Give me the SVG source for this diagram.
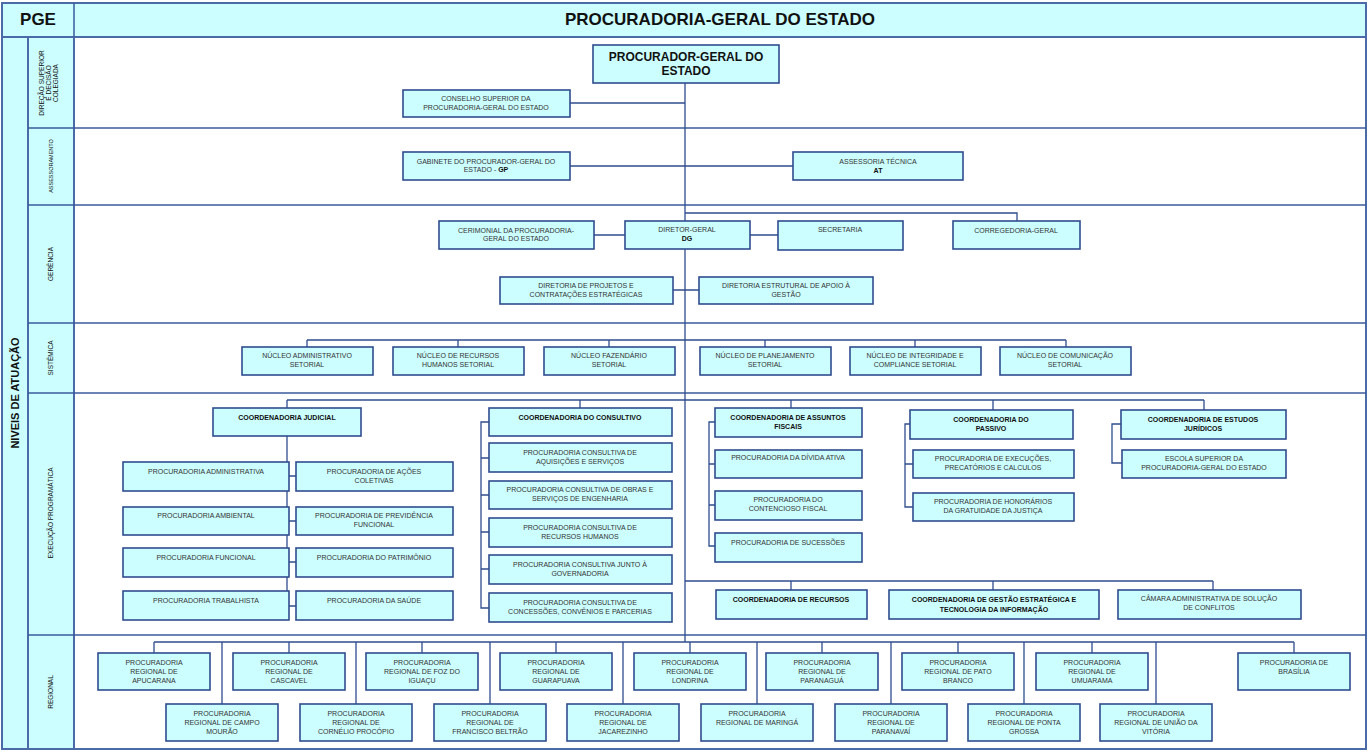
<svg xmlns="http://www.w3.org/2000/svg" width="1369" height="753" viewBox="0 0 1369 753">
<style>
.b{fill:#ccfeff;stroke:#2f4d8f;stroke-width:1.6}
.f{fill:#ccfeff;stroke:#4a6aa8;stroke-width:2}
.l{fill:none;stroke:#2f4d8f;stroke-width:1.3}
.g{stroke:#3a5a9c;stroke-width:1.5}
text{font-family:"Liberation Sans",Arial,sans-serif;text-anchor:middle;fill:#333}
.t{font-size:7px}
.tb{font-size:7px;font-weight:bold;fill:#111}
.v{font-size:6.5px;fill:#111}
.h{font-size:17px;font-weight:bold;fill:#111}
</style>
<rect x="0" y="0" width="1369" height="753" fill="#fff"/>
<g id="frame">
<rect class="f" x="2" y="3" width="1364" height="34"/>
<rect class="f" x="2" y="37" width="26" height="712"/>
<rect class="f" x="28" y="37" width="46" height="712"/>
<rect x="74" y="37" width="1292" height="712" fill="#fff" stroke="#4a6aa8" stroke-width="2"/>
<line class="g" x1="74" y1="3" x2="74" y2="37"/>
<line class="g" x1="28" y1="128" x2="1366" y2="128"/>
<line class="g" x1="28" y1="205" x2="1366" y2="205"/>
<line class="g" x1="28" y1="323" x2="1366" y2="323"/>
<line class="g" x1="28" y1="393" x2="1366" y2="393"/>
<line class="g" x1="28" y1="635" x2="1366" y2="635"/>
<text class="h" x="38" y="25">PGE</text>
<text class="h" x="720" y="25">PROCURADORIA-GERAL DO ESTADO</text>
<text style="font-size:11px;font-weight:bold;fill:#111" transform="translate(19,393) rotate(-90)">NIVEIS DE ATUAÇÃO</text>
<text class="v" transform="translate(44,83) rotate(-90)">DIREÇÃO SUPERIOR</text>
<text class="v" transform="translate(51,83) rotate(-90)">E DECISÃO</text>
<text class="v" transform="translate(58,83) rotate(-90)">COLEGIADA</text>
<text class="v" style="font-size:5.5px" transform="translate(53,166) rotate(-90)">ASSESSORAMENTO</text>
<text class="v" transform="translate(53,264) rotate(-90)">GERÊNCIA</text>
<text class="v" transform="translate(53,358) rotate(-90)">SISTÊMICA</text>
<text class="v" transform="translate(53,513) rotate(-90)">EXECUÇÃO PROGRAMÁTICA</text>
<text class="v" transform="translate(53,692) rotate(-90)">REGIONAL</text>
</g>
<g id="connectors">
<path class="l" d="M685 83V642M570 103H685M570 166H793M685 213H1017V221M594 235H625M750 235H778M673 290H699"/>
<path class="l" d="M307 340H1066M307 340V347M458 340V347M609 340V347M765 340V347M915 340V347M1066 340V347"/>
<path class="l" d="M287 400H1204M287 400V408M580 400V408M791 400V408M993 400V410M1204 400V410"/>
<path class="l" d="M287 436V609M289 476H296M289 521H296M289 562H296M289 606H296"/>
<path class="l" d="M489 422H481V608H489M481 458H489M481 495H489M481 532H489M481 569H489"/>
<path class="l" d="M715 422H709V546H715M709 464H715M709 505H715"/>
<path class="l" d="M910 424H905V507H913M905 464H913"/>
<path class="l" d="M1121 424H1112V463H1122"/>
<path class="l" d="M685 581H1213M791 581V590M993 581V590M1213 581V590"/>
<path class="l" d="M154 642H1294M154 642V653M289 642V653M422 642V653M556 642V653M690 642V653M822 642V653M958 642V653M1092 642V653M1294 642V653M222 642V704M356 642V704M490 642V704M623 642V704M757 642V704M891 642V704M1024 642V704M1156 642V704"/>
</g>
<g id="pge"><rect class="b" x="593" y="45" width="186" height="38"/><text style="font-size:12px;font-weight:bold;fill:#111" x="686" y="61">PROCURADOR-GERAL DO</text><text style="font-size:12px;font-weight:bold;fill:#111" x="686" y="75">ESTADO</text></g>
<g id="conselho"><rect class="b" x="403" y="90" width="167" height="27"/><text class="t" x="486" y="101">CONSELHO SUPERIOR DA</text><text class="t" x="486" y="110">PROCURADORIA-GERAL DO ESTADO</text></g>
<g id="gabinete"><rect class="b" x="403" y="152" width="167" height="28"/><text class="t" x="486" y="164">GABINETE DO PROCURADOR-GERAL DO</text><text class="t" x="486" y="172">ESTADO - <tspan font-weight="bold" fill="#111">GP</tspan></text></g>
<g id="at"><rect class="b" x="793" y="152" width="170" height="28"/><text class="t" x="878" y="164">ASSESSORIA TÉCNICA</text><text class="tb" x="878" y="173">AT</text></g>
<g id="cerimonial"><rect class="b" x="439" y="221" width="155" height="28"/><text class="t" x="516" y="233">CERIMONIAL DA PROCURADORIA-</text><text class="t" x="516" y="241">GERAL DO ESTADO</text></g>
<g id="dg"><rect class="b" x="625" y="221" width="125" height="28"/><text class="t" x="687" y="232">DIRETOR-GERAL</text><text class="tb" x="687" y="241">DG</text></g>
<g id="secretaria"><rect class="b" x="778" y="221" width="125" height="29"/><text class="t" x="840" y="232">SECRETARIA</text></g>
<g id="corregedoria"><rect class="b" x="953" y="221" width="127" height="28"/><text class="t" x="1016" y="233">CORREGEDORIA-GERAL</text></g>
<g id="dir-projetos"><rect class="b" x="500" y="277" width="173" height="27"/><text class="t" x="586" y="288">DIRETORIA DE PROJETOS E</text><text class="t" x="586" y="297">CONTRATAÇÕES ESTRATÉGICAS</text></g>
<g id="dir-estrutural"><rect class="b" x="699" y="277" width="174" height="27"/><text class="t" x="786" y="288">DIRETORIA ESTRUTURAL DE APOIO À</text><text class="t" x="786" y="297">GESTÃO</text></g>
<g id="nucleo-adm"><rect class="b" x="242" y="347" width="131" height="28"/><text class="t" x="307" y="358">NÚCLEO ADMINISTRATIVO</text><text class="t" x="307" y="367">SETORIAL</text></g>
<g id="nucleo-rh"><rect class="b" x="393" y="347" width="131" height="28"/><text class="t" x="458" y="358">NÚCLEO DE RECURSOS</text><text class="t" x="458" y="367">HUMANOS SETORIAL</text></g>
<g id="nucleo-faz"><rect class="b" x="544" y="347" width="131" height="28"/><text class="t" x="609" y="358">NÚCLEO FAZENDÁRIO</text><text class="t" x="609" y="367">SETORIAL</text></g>
<g id="nucleo-plan"><rect class="b" x="700" y="347" width="131" height="28"/><text class="t" x="765" y="358">NÚCLEO DE PLANEJAMENTO</text><text class="t" x="765" y="367">SETORIAL</text></g>
<g id="nucleo-int"><rect class="b" x="850" y="347" width="131" height="28"/><text class="t" x="915" y="358">NÚCLEO DE INTEGRIDADE E</text><text class="t" x="915" y="367">COMPLIANCE SETORIAL</text></g>
<g id="nucleo-com"><rect class="b" x="1000" y="347" width="131" height="28"/><text class="t" x="1065" y="358">NÚCLEO DE COMUNICAÇÃO</text><text class="t" x="1065" y="367">SETORIAL</text></g>
<g id="coord-judicial"><rect class="b" x="213" y="408" width="148" height="28"/><text class="tb" x="287" y="420">COORDENADORIA JUDICIAL</text></g>
<g id="pj-adm"><rect class="b" x="123" y="462" width="166" height="29"/><text class="t" x="206" y="474">PROCURADORIA ADMINISTRATIVA</text></g>
<g id="pj-acoes"><rect class="b" x="296" y="462" width="157" height="29"/><text class="t" x="374" y="474">PROCURADORIA DE AÇÕES</text><text class="t" x="374" y="483">COLETIVAS</text></g>
<g id="pj-amb"><rect class="b" x="123" y="507" width="166" height="28"/><text class="t" x="206" y="518">PROCURADORIA AMBIENTAL</text></g>
<g id="pj-prev"><rect class="b" x="296" y="507" width="157" height="28"/><text class="t" x="374" y="518">PROCURADORIA DE PREVIDÊNCIA</text><text class="t" x="374" y="527">FUNCIONAL</text></g>
<g id="pj-func"><rect class="b" x="123" y="548" width="166" height="29"/><text class="t" x="206" y="560">PROCURADORIA FUNCIONAL</text></g>
<g id="pj-patr"><rect class="b" x="296" y="548" width="157" height="29"/><text class="t" x="374" y="560">PROCURADORIA DO PATRIMÔNIO</text></g>
<g id="pj-trab"><rect class="b" x="123" y="591" width="166" height="29"/><text class="t" x="206" y="603">PROCURADORIA TRABALHISTA</text></g>
<g id="pj-saude"><rect class="b" x="296" y="591" width="157" height="29"/><text class="t" x="374" y="603">PROCURADORIA DA SAÚDE</text></g>
<g id="coord-consultivo"><rect class="b" x="489" y="408" width="183" height="28"/><text class="tb" x="580" y="420">COORDENADORIA DO CONSULTIVO</text></g>
<g id="pc-aq"><rect class="b" x="489" y="443" width="183" height="29"/><text class="t" x="580" y="455">PROCURADORIA CONSULTIVA DE</text><text class="t" x="580" y="464">AQUISIÇÕES E SERVIÇOS</text></g>
<g id="pc-obras"><rect class="b" x="489" y="481" width="183" height="28"/><text class="t" x="580" y="492">PROCURADORIA CONSULTIVA DE OBRAS E</text><text class="t" x="580" y="501">SERVIÇOS DE ENGENHARIA</text></g>
<g id="pc-rh"><rect class="b" x="489" y="518" width="183" height="29"/><text class="t" x="580" y="530">PROCURADORIA CONSULTIVA DE</text><text class="t" x="580" y="539">RECURSOS HUMANOS</text></g>
<g id="pc-gov"><rect class="b" x="489" y="555" width="183" height="29"/><text class="t" x="580" y="567">PROCURADORIA CONSULTIVA JUNTO À</text><text class="t" x="580" y="576">GOVERNADORIA</text></g>
<g id="pc-conc"><rect class="b" x="489" y="593" width="183" height="29"/><text class="t" x="580" y="605">PROCURADORIA CONSULTIVA DE</text><text class="t" x="580" y="614">CONCESSÕES, CONVÊNIOS E PARCERIAS</text></g>
<g id="coord-fiscais"><rect class="b" x="715" y="408" width="147" height="29"/><text class="tb" x="788" y="420">COORDENADORIA DE ASSUNTOS</text><text class="tb" x="788" y="429">FISCAIS</text></g>
<g id="pf-divida"><rect class="b" x="715" y="450" width="147" height="28"/><text class="t" x="788" y="460">PROCURADORIA DA DÍVIDA ATIVA</text></g>
<g id="pf-cont"><rect class="b" x="715" y="491" width="147" height="29"/><text class="t" x="788" y="502">PROCURADORIA DO</text><text class="t" x="788" y="511">CONTENCIOSO FISCAL</text></g>
<g id="pf-suc"><rect class="b" x="715" y="533" width="147" height="29"/><text class="t" x="788" y="545">PROCURADORIA DE SUCESSÕES</text></g>
<g id="coord-passivo"><rect class="b" x="910" y="410" width="163" height="29"/><text class="tb" x="991" y="422">COORDENADORIA DO</text><text class="tb" x="991" y="431">PASSIVO</text></g>
<g id="pp-exec"><rect class="b" x="913" y="450" width="161" height="28"/><text class="t" x="993" y="461">PROCURADORIA DE EXECUÇÕES,</text><text class="t" x="993" y="470">PRECATÓRIOS E CALCULOS</text></g>
<g id="pp-hon"><rect class="b" x="913" y="493" width="161" height="28"/><text class="t" x="993" y="504">PROCURADORIA DE HONORÁRIOS</text><text class="t" x="993" y="513">DA GRATUIDADE DA JUSTIÇA</text></g>
<g id="coord-estudos"><rect class="b" x="1121" y="410" width="165" height="29"/><text class="tb" x="1203" y="422">COORDENADORIA DE ESTUDOS</text><text class="tb" x="1203" y="431">JURÍDICOS</text></g>
<g id="escola"><rect class="b" x="1122" y="450" width="164" height="28"/><text class="t" x="1204" y="461">ESCOLA SUPERIOR DA</text><text class="t" x="1204" y="470">PROCURADORIA-GERAL DO ESTADO</text></g>
<g id="coord-recursos"><rect class="b" x="716" y="590" width="151" height="29"/><text class="tb" x="791" y="602">COORDENADORIA DE RECURSOS</text></g>
<g id="coord-gestao"><rect class="b" x="889" y="590" width="210" height="29"/><text class="tb" x="994" y="602">COORDENADORIA DE GESTÃO ESTRATÉGICA E</text><text class="tb" x="994" y="612">TECNOLOGIA DA INFORMAÇÃO</text></g>
<g id="camara"><rect class="b" x="1118" y="590" width="183" height="29"/><text class="t" x="1209" y="601">CÂMARA ADMINISTRATIVA DE SOLUÇÃO</text><text class="t" x="1209" y="610">DE CONFLITOS</text></g>
<g id="pr-apucarana"><rect class="b" x="98" y="653" width="112" height="37"/><text class="t" x="154" y="665">PROCURADORIA</text><text class="t" x="154" y="674">REGIONAL DE</text><text class="t" x="154" y="683">APUCARANA</text></g>
<g id="pr-cascavel"><rect class="b" x="233" y="653" width="112" height="37"/><text class="t" x="289" y="665">PROCURADORIA</text><text class="t" x="289" y="674">REGIONAL DE</text><text class="t" x="289" y="683">CASCAVEL</text></g>
<g id="pr-foz"><rect class="b" x="366" y="653" width="112" height="37"/><text class="t" x="422" y="665">PROCURADORIA</text><text class="t" x="422" y="674">REGIONAL DE FOZ DO</text><text class="t" x="422" y="683">IGUAÇU</text></g>
<g id="pr-guarapuava"><rect class="b" x="500" y="653" width="112" height="37"/><text class="t" x="556" y="665">PROCURADORIA</text><text class="t" x="556" y="674">REGIONAL DE</text><text class="t" x="556" y="683">GUARAPUAVA</text></g>
<g id="pr-londrina"><rect class="b" x="634" y="653" width="112" height="37"/><text class="t" x="690" y="665">PROCURADORIA</text><text class="t" x="690" y="674">REGIONAL DE</text><text class="t" x="690" y="683">LONDRINA</text></g>
<g id="pr-paranagua"><rect class="b" x="766" y="653" width="112" height="37"/><text class="t" x="822" y="665">PROCURADORIA</text><text class="t" x="822" y="674">REGIONAL DE</text><text class="t" x="822" y="683">PARANAGUÁ</text></g>
<g id="pr-pato"><rect class="b" x="902" y="653" width="112" height="37"/><text class="t" x="958" y="665">PROCURADORIA</text><text class="t" x="958" y="674">REGIONAL DE PATO</text><text class="t" x="958" y="683">BRANCO</text></g>
<g id="pr-umuarama"><rect class="b" x="1036" y="653" width="112" height="37"/><text class="t" x="1092" y="665">PROCURADORIA</text><text class="t" x="1092" y="674">REGIONAL DE</text><text class="t" x="1092" y="683">UMUARAMA</text></g>
<g id="pr-brasilia"><rect class="b" x="1238" y="653" width="112" height="37"/><text class="t" x="1294" y="665">PROCURADORIA DE</text><text class="t" x="1294" y="674">BRASÍLIA</text></g>
<g id="pr-campo"><rect class="b" x="166" y="704" width="112" height="37"/><text class="t" x="222" y="716">PROCURADORIA</text><text class="t" x="222" y="725">REGIONAL DE CAMPO</text><text class="t" x="222" y="734">MOURÃO</text></g>
<g id="pr-cornelio"><rect class="b" x="300" y="704" width="112" height="37"/><text class="t" x="356" y="716">PROCURADORIA</text><text class="t" x="356" y="725">REGIONAL DE</text><text class="t" x="356" y="734">CORNÉLIO PROCÓPIO</text></g>
<g id="pr-francisco"><rect class="b" x="434" y="704" width="112" height="37"/><text class="t" x="490" y="716">PROCURADORIA</text><text class="t" x="490" y="725">REGIONAL DE</text><text class="t" x="490" y="734">FRANCISCO BELTRÃO</text></g>
<g id="pr-jacarezinho"><rect class="b" x="567" y="704" width="112" height="37"/><text class="t" x="623" y="716">PROCURADORIA</text><text class="t" x="623" y="725">REGIONAL DE</text><text class="t" x="623" y="734">JACAREZINHO</text></g>
<g id="pr-maringa"><rect class="b" x="701" y="704" width="112" height="37"/><text class="t" x="757" y="716">PROCURADORIA</text><text class="t" x="757" y="725">REGIONAL DE MARINGÁ</text></g>
<g id="pr-paranavai"><rect class="b" x="835" y="704" width="112" height="37"/><text class="t" x="891" y="716">PROCURADORIA</text><text class="t" x="891" y="725">REGIONAL DE</text><text class="t" x="891" y="734">PARANAVAÍ</text></g>
<g id="pr-ponta"><rect class="b" x="968" y="704" width="112" height="37"/><text class="t" x="1024" y="716">PROCURADORIA</text><text class="t" x="1024" y="725">REGIONAL DE PONTA</text><text class="t" x="1024" y="734">GROSSA</text></g>
<g id="pr-uniao"><rect class="b" x="1100" y="704" width="112" height="37"/><text class="t" x="1156" y="716">PROCURADORIA</text><text class="t" x="1156" y="725">REGIONAL DE UNIÃO DA</text><text class="t" x="1156" y="734">VITÓRIA</text></g>
</svg>
